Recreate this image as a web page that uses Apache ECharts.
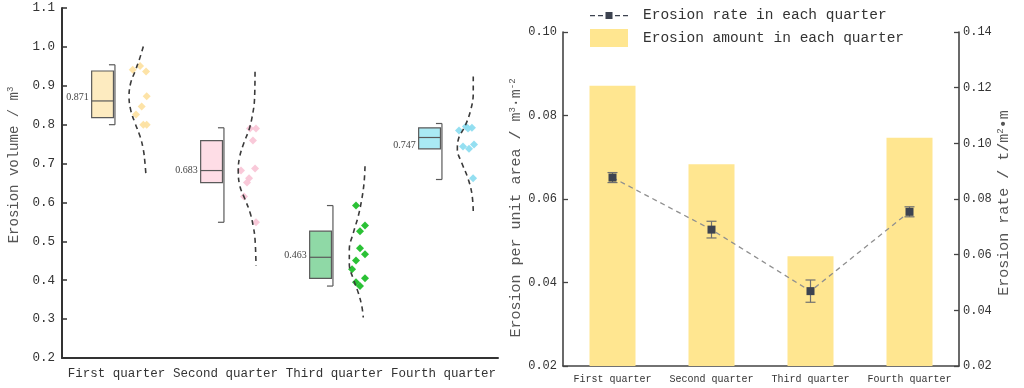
<!DOCTYPE html>
<html>
<head>
<meta charset="utf-8">
<script src="https://cdn.jsdelivr.net/npm/echarts@6/dist/echarts.min.js"></script>
<style>
html,body{margin:0;padding:0;background:#fff;}
#c{width:1024px;height:388px;}
</style>
</head>
<body>
<div id="c"></div>
<script>
// ---------- DATA ----------
var categories = ['First quarter', 'Second quarter', 'Third quarter', 'Fourth quarter'];

// left panel: box statistics [min, q1, median, q3, max] and mean label
var boxStats = [
  [0.800, 0.818, 0.861, 0.938, 0.954],
  [0.549, 0.651, 0.682, 0.759, 0.792],
  [0.385, 0.405, 0.459, 0.526, 0.592],
  [0.659, 0.738, 0.767, 0.792, 0.803]
];
var means = [0.871, 0.683, 0.463, 0.747];

// left panel: raw points [x on 0-4 category scale, volume]
var pointsQ1 = [[0.649,0.941],[0.716,0.951],[0.771,0.937],[0.777,0.873],[0.731,0.847],[0.679,0.826],[0.746,0.800],[0.777,0.800]];
var pointsQ2 = [[1.725,0.790],[1.780,0.790],[1.752,0.759],[1.642,0.682],[1.771,0.687],[1.716,0.662],[1.697,0.651],[1.670,0.615],[1.780,0.549]];
var pointsQ3 = [[2.697,0.592],[2.780,0.541],[2.734,0.526],[2.734,0.482],[2.780,0.467],[2.697,0.451],[2.661,0.428],[2.697,0.395],[2.734,0.385],[2.780,0.405]];
var pointsQ4 = [[3.642,0.785],[3.706,0.795],[3.761,0.792],[3.725,0.790],[3.679,0.744],[3.734,0.738],[3.780,0.749],[3.771,0.662]];

// left panel: distribution curves [x on 0-4 scale, volume]
var curveQ1 = [[0.746,1.001],[0.709,0.967],[0.670,0.937],[0.630,0.907],[0.615,0.873],[0.630,0.838],[0.670,0.804],[0.716,0.770],[0.746,0.736],[0.761,0.702],[0.771,0.667]];
var curveQ2 = [[1.771,0.936],[1.766,0.864],[1.743,0.818],[1.716,0.787],[1.670,0.754],[1.628,0.715],[1.617,0.679],[1.633,0.641],[1.679,0.608],[1.725,0.574],[1.755,0.538],[1.771,0.505],[1.780,0.438]];
var curveQ3 = [[2.780,0.693],[2.771,0.650],[2.750,0.608],[2.718,0.565],[2.673,0.522],[2.636,0.479],[2.636,0.441],[2.673,0.403],[2.718,0.368],[2.750,0.334],[2.764,0.304]];
var curveQ4 = [[3.773,0.924],[3.773,0.881],[3.750,0.838],[3.697,0.796],[3.636,0.762],[3.627,0.736],[3.667,0.702],[3.718,0.667],[3.759,0.625],[3.773,0.578]];

// right panel
var erosionAmount = [0.0871, 0.0683, 0.0463, 0.0747];
var erosionRate = [0.0877, 0.0690, 0.0469, 0.0754];
var erosionRateErr = [0.0018, 0.0030, 0.0040, 0.0018];

var leftTicks = [0.2, 1.1, 0.1];
var rightLeftTicks = [0.02, 0.10, 0.02];
var rightRightTicks = [0.02, 0.14, 0.02];

// ---------- STYLE ----------
var MONO = 'Liberation Mono';
var boxFill = ['#FDEBC0', '#FEDDE6', '#8FD9A6', '#AAEAF4'];
var pointColor = ['#FDE2A2', '#F9C6D7', '#1FBE2A', '#8EDDF0'];
var pointSets = [pointsQ1, pointsQ2, pointsQ3, pointsQ4];
var curveSets = [curveQ1, curveQ2, curveQ3, curveQ4];
var rateIcon = 'path://M0,3h5v1.3h-5zM8,3h5v1.3h-5zM15.5,0h7v7h-7zM25,3h5v1.3h-5zM33,3h5v1.3h-5z';

var chart = echarts.init(document.getElementById('c'), null, {renderer: 'canvas'});

var series = [];

// boxes
series.push({
  type: 'custom',
  xAxisIndex: 1, yAxisIndex: 0,
  z: 3,
  data: boxStats.map(function (b, i) { return [i].concat(b).concat([means[i]]); }),
  renderItem: function (params, api) {
    var i = api.value(0);
    var catW = api.size([1, 0])[0];
    var cx = api.coord([i + 0.5, 0])[0] - catW * 0.128;
    var bw = catW * 0.2;
    var yMin = api.coord([0, api.value(1)])[1];
    var yQ1 = api.coord([0, api.value(2)])[1];
    var yMed = api.coord([0, api.value(3)])[1];
    var yQ3 = api.coord([0, api.value(4)])[1];
    var yMax = api.coord([0, api.value(5)])[1];
    var yMean = api.coord([0, api.value(6)])[1];
    var left = cx - bw / 2, right = cx + bw / 2;
    var wx = right + 1.5;
    var line = {stroke: '#5a5a5a', lineWidth: 1.2};
    return {
      type: 'group',
      children: [
        {type: 'rect', shape: {x: left, y: yQ3, width: bw, height: yQ1 - yQ3},
          style: {fill: boxFill[i], stroke: '#5a5a5a', lineWidth: 1.2}},
        {type: 'line', shape: {x1: left, y1: yMed, x2: right, y2: yMed}, style: line},
        {type: 'line', shape: {x1: wx, y1: yMax, x2: wx, y2: yMin}, style: line},
        {type: 'line', shape: {x1: wx - 6, y1: yMax, x2: wx, y2: yMax}, style: line},
        {type: 'line', shape: {x1: wx - 6, y1: yMin, x2: wx, y2: yMin}, style: line},
        {type: 'text', style: {text: api.value(6).toFixed(3), x: left - 3, y: yMean,
          align: 'right', verticalAlign: 'middle', font: '10px "Liberation Serif"', fill: '#444'}}
      ]
    };
  }
});

// points & curves
pointSets.forEach(function (pts, i) {
  series.push({
    type: 'scatter', xAxisIndex: 1, yAxisIndex: 0, z: 4,
    symbol: 'diamond', symbolSize: 8,
    itemStyle: {color: pointColor[i], opacity: 0.95},
    data: pts
  });
});
curveSets.forEach(function (cv) {
  series.push({
    type: 'line', xAxisIndex: 1, yAxisIndex: 0, z: 5,
    smooth: 0.4, showSymbol: false, symbol: 'none',
    lineStyle: {color: '#3a3a3a', width: 1.6, type: [5, 4]},
    data: cv
  });
});

// right panel bars
series.push({
  name: 'Erosion amount in each quarter',
  type: 'bar', xAxisIndex: 2, yAxisIndex: 1,
  barWidth: 46,
  itemStyle: {color: '#FFE690'},
  data: erosionAmount
});
// error bars
series.push({
  type: 'custom', xAxisIndex: 2, yAxisIndex: 2, z: 6,
  data: erosionRate.map(function (v, i) { return [i, v - erosionRateErr[i], v + erosionRateErr[i]]; }),
  renderItem: function (params, api) {
    var lo = api.coord([api.value(0), api.value(1)]);
    var hi = api.coord([api.value(0), api.value(2)]);
    var s = {stroke: '#707070', lineWidth: 1.2};
    return {type: 'group', children: [
      {type: 'line', shape: {x1: lo[0], y1: lo[1], x2: hi[0], y2: hi[1]}, style: s},
      {type: 'line', shape: {x1: lo[0] - 5, y1: lo[1], x2: lo[0] + 5, y2: lo[1]}, style: s},
      {type: 'line', shape: {x1: hi[0] - 5, y1: hi[1], x2: hi[0] + 5, y2: hi[1]}, style: s}
    ]};
  }
});
series.push({
  name: 'Erosion rate in each quarter',
  type: 'line', xAxisIndex: 2, yAxisIndex: 2, z: 7,
  symbol: 'rect', symbolSize: 8, showSymbol: true,
  itemStyle: {color: '#3D4350'},
  lineStyle: {color: '#909090', width: 1.3, type: [5, 4]},
  data: erosionRate
});

var axisLbl = {fontFamily: MONO, color: '#333'};

chart.setOption({
  animation: false,
  backgroundColor: '#fff',
  grid: [
    {left: 62, right: 526, top: 8, bottom: 30},
    {left: 563, right: 65, top: 32, bottom: 22}
  ],
  legend: {
    orient: 'vertical', left: 590, top: 8, padding: 0,
    itemWidth: 38, itemHeight: 18, itemGap: 6,
    textStyle: {fontFamily: MONO, fontSize: 14.5, color: '#333', padding: [0, 0, 0, 10]},
    data: [
      {name: 'Erosion rate in each quarter', icon: rateIcon, itemStyle: {color: '#3D4350'}},
      {name: 'Erosion amount in each quarter', icon: 'rect'}
    ]
  },
  xAxis: [
    {type: 'category', gridIndex: 0, data: categories,
      axisLine: {lineStyle: {color: '#333', width: 2}},
      axisTick: {alignWithLabel: true, inside: true, length: 5, lineStyle: {color: '#333', width: 1.5}},
      axisLabel: Object.assign({fontSize: 12.5, margin: 9, interval: 0}, axisLbl),
      splitLine: {show: false}},
    {type: 'value', gridIndex: 0, min: 0, max: 4, show: false},
    {type: 'category', gridIndex: 1, data: categories,
      axisLine: {lineStyle: {color: '#444', width: 1.6}},
      axisTick: {show: false},
      axisLabel: Object.assign({fontSize: 10, margin: 8, interval: 0}, axisLbl),
      splitLine: {show: false}}
  ],
  yAxis: [
    {type: 'value', gridIndex: 0, min: leftTicks[0], max: leftTicks[1], interval: leftTicks[2],
      axisLine: {show: true, lineStyle: {color: '#333', width: 2}},
      axisTick: {show: true, inside: true, length: 5, lineStyle: {color: '#333', width: 1.5}},
      axisLabel: Object.assign({fontSize: 12.5, margin: 7, formatter: function (v) { return v.toFixed(1); }}, axisLbl),
      splitLine: {show: false},
      name: 'Erosion volume / m{sup|3}', nameLocation: 'middle', nameGap: 40,
      nameTextStyle: {fontFamily: MONO, fontSize: 14, color: '#555', padding: [0, 0, 0, 36],
        rich: {sup: {fontFamily: MONO, fontSize: 9, color: '#555', verticalAlign: 'top', padding: [0, 0, 7, 0]}}}},
    {type: 'value', gridIndex: 1, position: 'left', min: rightLeftTicks[0], max: rightLeftTicks[1], interval: rightLeftTicks[2],
      axisLine: {show: true, lineStyle: {color: '#444', width: 1.6}},
      axisTick: {show: true, inside: true, length: 5, lineStyle: {color: '#444', width: 1.3}},
      axisLabel: Object.assign({fontSize: 12, margin: 6, formatter: function (v) { return v.toFixed(2); }}, axisLbl),
      splitLine: {show: false},
      name: 'Erosion per unit area / m{sup|3}·m{sup|-2}', nameLocation: 'middle', nameGap: 38,
      nameTextStyle: {fontFamily: MONO, fontSize: 15, color: '#555', padding: [0, 18, 0, 0],
        rich: {sup: {fontFamily: MONO, fontSize: 9, color: '#555', verticalAlign: 'top', padding: [0, 0, 8, 0]}}}},
    {type: 'value', gridIndex: 1, position: 'right', min: rightRightTicks[0], max: rightRightTicks[1], interval: rightRightTicks[2],
      axisLine: {show: true, lineStyle: {color: '#444', width: 1.6}},
      axisTick: {show: true, inside: true, length: 5, lineStyle: {color: '#444', width: 1.3}},
      axisLabel: Object.assign({fontSize: 12, margin: 4, formatter: function (v) { return v.toFixed(2); }}, axisLbl),
      splitLine: {show: false},
      name: 'Erosion rate / t/m{sup|2}•m', nameLocation: 'middle', nameGap: 36,
      nameTextStyle: {fontFamily: MONO, fontSize: 15, color: '#555', padding: [0, 8, 0, 0],
        rich: {sup: {fontFamily: MONO, fontSize: 9, color: '#555', verticalAlign: 'top', padding: [0, 0, 8, 0]}}}}
  ],
  series: series
});
</script>
</body>
</html>
